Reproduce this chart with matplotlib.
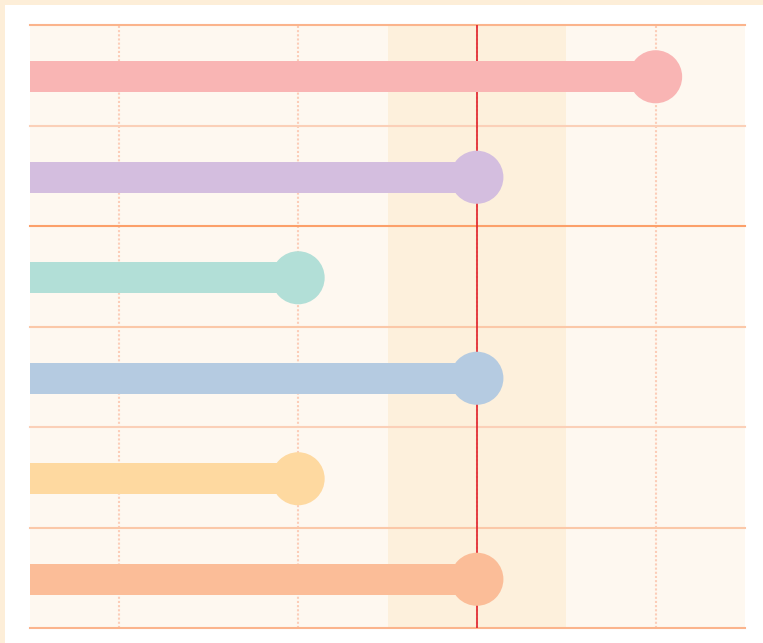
import numpy as np
import matplotlib
matplotlib.use("Agg")
import matplotlib.pyplot as plt
from matplotlib.patches import Rectangle

# data
rows = [0, 1, 2, 3, 4, 5]
values = [4, 3, 2, 3, 2, 3]
colors = ["#f9b5b4", "#d4bedf", "#b2dfd7", "#b5cbe1", "#fed9a0", "#fbbd98"]
grid_x = [1, 2, 3, 4]
band = (2.5, 3.5)
ref_value = 3

W, H = 763, 643
fig = plt.figure(figsize=(W / 100, H / 100), dpi=100)
fig.patch.set_facecolor("#fdeed8")
# white panel inside the cream frame
fig.patches.append(Rectangle((5 / W, 0), 1 - 5 / W, 1 - 5 / H, transform=fig.transFigure,
                             facecolor="white", edgecolor="none", zorder=-10))

ax = fig.add_axes([30 / W, (H - 628) / H, 715 / W, 603 / H])
ax.set_facecolor("#fef8f0")
ax.set_xlim(0.5, 4.5)
ax.set_ylim(5.5, -0.5)

ax.axvspan(band[0], band[1], color="#fdf0dc", zorder=0.5, lw=0)

for gx in grid_x:
    ax.axvline(gx, color="#fccdb8", lw=1.5, ls=(0, (1, 1)), zorder=1)

line_cols = ["#fbb48c", "#fbd0b8", "#fca06a", "#fbc8a8", "#fbd0b8", "#fbc8a8", "#fbb48c"]
for i, yl in enumerate(np.arange(-0.5, 6, 1.0)):
    ax.axhline(yl, color=line_cols[i], lw=1.5, zorder=1.5, clip_on=False)

ax.axvline(ref_value, color="#e0202a", lw=1.2, zorder=2)

ypos = np.array(rows) + 0.015  # marks sit a hair below the row centre
ax.barh(ypos, values, left=0, height=0.31, color=colors, zorder=3, lw=0)
ax.scatter(values, ypos, s=1460, c=colors, zorder=4, lw=0)

ax.set_xticks([])
ax.set_yticks([])
for s in ax.spines.values():
    s.set_visible(False)

fig.savefig("out.png", dpi=100, facecolor=fig.get_facecolor())
